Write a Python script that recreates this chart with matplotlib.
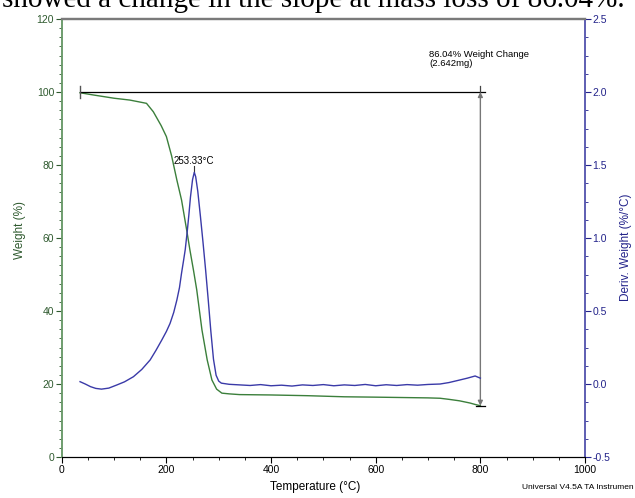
import matplotlib
matplotlib.use("Agg")
import matplotlib.pyplot as plt
from matplotlib.ticker import MultipleLocator

# ---- data ----
weight_temp = [35, 60, 100, 130, 162, 175, 190, 200, 210, 220, 229, 239, 245,
               252, 258, 268, 278, 287, 296, 306, 320, 340, 400, 470, 540,
               600, 650, 700, 723, 740, 760, 780, 790, 800]
weight_pct = [99.8, 99.2, 98.3, 97.8, 96.9, 94.6, 90.8, 87.8, 82.5, 75.9, 70.4,
              62.0, 56.7, 51.0, 45.8, 34.8, 26.6, 21.1, 18.6, 17.5, 17.3, 17.1,
              17.0, 16.8, 16.5, 16.4, 16.3, 16.2, 16.1, 15.8, 15.4, 14.8, 14.4, 14.05]

deriv_temp = [35, 45, 55, 65, 76, 90, 105, 120, 137, 153, 169, 180, 191, 200,
              207, 214, 220, 225, 229, 233, 236, 240, 243, 246, 250, 253.33,
              256, 260, 265, 270, 275, 280, 285, 290, 295, 300, 305, 320, 340,
              360, 380, 400, 420, 440, 460, 480, 500, 520, 540, 560, 580, 600,
              620, 640, 660, 680, 700, 723, 740, 760, 775, 790, 800]
deriv_val = [0.016, 0.0, -0.018, -0.03, -0.035, -0.028, -0.007, 0.015, 0.05,
             0.1, 0.165, 0.23, 0.30, 0.36, 0.415, 0.49, 0.575, 0.66, 0.76,
             0.85, 0.92, 1.05, 1.16, 1.28, 1.40, 1.45, 1.42, 1.32, 1.15, 0.97,
             0.78, 0.575, 0.36, 0.17, 0.06, 0.02, 0.006, -0.002, -0.006, -0.01,
             -0.004, -0.012, -0.008, -0.014, -0.006, -0.01, -0.004, -0.012,
             -0.006, -0.01, -0.003, -0.012, -0.005, -0.01, -0.004, -0.008,
             -0.003, 0.0, 0.01, 0.027, 0.04, 0.055, 0.04]

peak_temp = 253.33
peak_label = "253.33°C"
change_label = "86.04% Weight Change\n(2.642mg)"
start_temp = 35
end_temp = 800
start_weight = 100
end_weight = 14.05

x_ticks = [0, 200, 400, 600, 800, 1000]
y_ticks = [0, 20, 40, 60, 80, 100, 120]
y2_ticks = [-0.5, 0.0, 0.5, 1.0, 1.5, 2.0, 2.5]

GREEN = '#3b7f3b'
BLUE = '#3a3aa8'
GREEN_TXT = '#2f5a2f'
BLUE_TXT = '#23238a'

plt.rcParams['font.family'] = ['Liberation Sans', 'DejaVu Sans']

fig = plt.figure(figsize=(6.35, 4.98), dpi=100)
ax = fig.add_axes([0.0972, 0.0823, 0.8241, 0.8795])
ax2 = ax.twinx()

ax.plot(weight_temp, weight_pct, color=GREEN, lw=1.0, zorder=3)
ax2.plot(deriv_temp, deriv_val, color=BLUE, lw=1.0, zorder=3)

ax.set_xlim(0, 1000)
ax.set_ylim(0, 120)
ax2.set_ylim(-0.5, 2.5)

ax.set_xticks(x_ticks)
ax.set_yticks(y_ticks)
ax2.set_yticks(y2_ticks)
ax2.set_yticklabels([f"{v:.1f}" for v in y2_ticks])
ax.xaxis.set_minor_locator(MultipleLocator(50))
ax.yaxis.set_minor_locator(MultipleLocator(2.5))
ax2.yaxis.set_minor_locator(MultipleLocator(0.125))

ax.tick_params(axis='x', which='major', length=4, width=0.8, labelsize=7.5,
               colors='black', pad=2)
ax.tick_params(axis='x', which='minor', length=2.5, width=0.6)
ax.tick_params(axis='y', which='major', length=4, width=0.8, labelsize=7.5,
               colors=GREEN_TXT, pad=1.5)
ax.tick_params(axis='y', which='minor', length=2.0, width=0.6, colors=GREEN_TXT)
ax2.tick_params(axis='y', which='major', length=4, width=0.8, labelsize=7.5,
                colors=BLUE_TXT, pad=1.5)
ax2.tick_params(axis='y', which='minor', length=2.0, width=0.6, colors=BLUE_TXT)

for a in (ax, ax2):
    a.spines['top'].set_color('#7a7a7a')
    a.spines['top'].set_linewidth(1.6)
    a.spines['bottom'].set_color('black')
    a.spines['left'].set_color('#6a9a6a')
    a.spines['right'].set_color('#5a5ab0')
    a.spines['left'].set_linewidth(1.1)
    a.spines['right'].set_linewidth(1.1)

# weight change markers
ax.plot([start_temp, end_temp + 9], [start_weight, start_weight], color='black', lw=0.9, zorder=4)
ax.plot([start_temp, start_temp], [start_weight - 1.6, start_weight + 1.6], color='#555555', lw=1.0, zorder=4)
ax.plot([end_temp, end_temp], [start_weight + 1.6, start_weight], color='#444444', lw=0.9, zorder=4)
ax.annotate('', xy=(end_temp, start_weight), xytext=(end_temp, end_weight),
            arrowprops=dict(arrowstyle='<|-|>', color='#777777', lw=1.0,
                            mutation_scale=7, shrinkA=0, shrinkB=0), zorder=4)
ax.plot([end_temp - 9, end_temp + 9], [end_weight, end_weight], color='black', lw=0.9, zorder=4)
ax.text(702, 111.5, change_label, fontsize=6.8, ha='left', va='top',
        linespacing=1.0, color='black')

# peak annotation
peak_w = (1.45 + 0.5) * 40
ax.plot([peak_temp, peak_temp], [peak_w, peak_w + 1.6], color='#333333', lw=0.8, zorder=4)
ax.text(peak_temp, peak_w + 1.8, peak_label, fontsize=7, ha='center', va='bottom', color='black')

# axis labels
fig.text(20 / 635, 1 - 230 / 498, 'Weight (%)', rotation=90, ha='center', va='center',
         fontsize=8.5, color=GREEN_TXT)
fig.text(626 / 635, 1 - 247 / 498, 'Deriv. Weight (%/°C)', rotation=90, ha='center',
         va='center', fontsize=8.5, color=BLUE_TXT)
fig.text(315 / 635, 1 - 487 / 498, 'Temperature (°C)', ha='center', va='center',
         fontsize=8.5, color='black')
fig.text(634 / 635, 1 - 487 / 498, 'Universal V4.5A TA Instrumen', ha='right', va='center',
         fontsize=6, color='black')

# cropped document text at the very top
fig.text(0.003, 1 - 7 / 498, 'showed a change in the slope at mass loss of 86.04%.',
         ha='left', va='baseline', fontsize=21, family=['Liberation Serif'], color='black')

fig.savefig('out.png', dpi=100)
